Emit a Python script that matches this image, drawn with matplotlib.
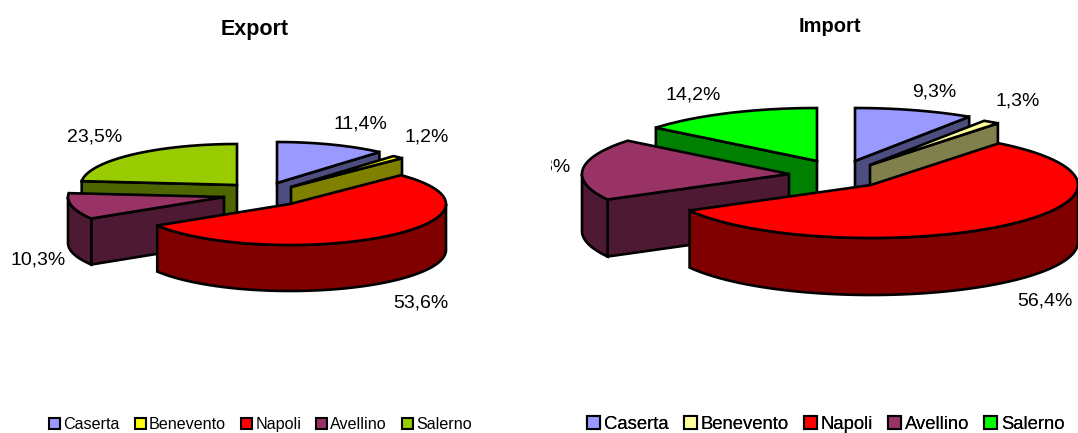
import numpy as np
import matplotlib
matplotlib.use("Agg")
import matplotlib.pyplot as plt
from matplotlib.patches import Patch, Polygon, Rectangle

plt.rcParams['font.family'] = ['Liberation Sans', 'DejaVu Sans']

provinces = ["Caserta", "Benevento", "Napoli", "Avellino", "Salerno"]
export_vals = [11.4, 1.2, 53.6, 10.3, 23.5]
import_vals = [9.3, 1.3, 56.4, 18.8, 14.2]

export_tops = ["#9999FF", "#FFFF00", "#FF0000", "#993366", "#99CC00"]
export_sides = ["#4D4D80", "#808000", "#800000", "#4D1933", "#4D6600"]
import_tops = ["#9999FF", "#FFFF99", "#FF0000", "#993366", "#00FF00"]
import_sides = ["#4D4D80", "#80804D", "#800000", "#4D1933", "#008000"]

# apex of every slice in pixels, slices are pulled apart by hand
export_apex = [(277, 183), (291, 187), (290, 204), (224, 197), (237, 185)]
import_apex = [(855, 161), (870, 165), (871, 185), (789, 174), (817, 161)]

# painter order, back slices first
order = [4, 0, 1, 3, 2]


def rim(apex, rx, ry, t):
    return np.column_stack([apex[0] + rx * np.sin(t), apex[1] - ry * np.cos(t)])


def draw_pie(ax, vals, tops, sides, apexes, rx, ry, h):
    edges = np.radians(np.concatenate([[0], np.cumsum(vals)]) * 3.6)
    for i in order:
        a0, a1 = edges[i], edges[i + 1]
        apex = apexes[i]
        style = dict(edgecolor="black", linewidth=1.9, joinstyle="miter")
        # cut faces turned to the viewer
        for a, visible in ((a0, np.sin(a0) < -1e-6), (a1, np.sin(a1) > 1e-6)):
            if visible:
                p = rim(apex, rx, ry, np.array([a]))[0]
                quad = [apex, p, (p[0], p[1] + h), (apex[0], apex[1] + h)]
                ax.add_patch(Polygon(quad, closed=True, facecolor=sides[i], **style))
        # outer wall, only the front half of the ellipse shows
        lo, hi = max(a0, np.pi / 2), min(a1, 3 * np.pi / 2)
        if lo < hi:
            arc = rim(apex, rx, ry, np.linspace(lo, hi, 80))
            wall = np.vstack([arc, (arc + [0, h])[::-1]])
            ax.add_patch(Polygon(wall, closed=True, facecolor=sides[i], **style))
        arc = rim(apex, rx, ry, np.linspace(a0, a1, 120))
        ax.add_patch(Polygon(np.vstack([[apex], arc]), closed=True, facecolor=tops[i], **style))


fig = plt.figure(figsize=(10.78, 4.33), dpi=100)
ax = fig.add_axes([0, 0, 1, 1])
ax.set_xlim(0, 1078)
ax.set_ylim(433, 0)
ax.axis("off")

draw_pie(ax, export_vals, export_tops, export_sides, export_apex, 156, 41, 46)
draw_pie(ax, import_vals, import_tops, import_sides, import_apex, 207, 53, 57)

ax.text(255, 29, "Export", fontsize=15.5, fontweight="bold", ha="center", va="center")
ax.text(830, 26, "Import", fontsize=14.5, fontweight="bold", ha="center", va="center")

export_pos = [(360, 124), (427, 137), (421, 303), (38, 260), (95, 137)]
import_pos = [(934, 92), (1018, 101), (1045, 301), (543, 167), (693, 95)]
for v, pos in zip(export_vals, export_pos):
    ax.text(pos[0], pos[1], f"{v:.1f}%".replace(".", ","), fontsize=14, ha="center", va="center")
clip = Rectangle((551, 0), 527, 433, transform=ax.transData)
for v, pos in zip(import_vals, import_pos):
    t = ax.text(pos[0], pos[1], f"{v:.1f}%".replace(".", ","), fontsize=14, ha="center", va="center")
    t.set_clip_path(clip)
    t.set_clip_on(True)


def add_legend(tops, x, y, size, spacing):
    handles = [Patch(facecolor=c, edgecolor="black", linewidth=1.5) for c in tops]
    leg = ax.legend(handles, provinces, ncol=5, frameon=False, fontsize=size,
                    loc="center left", bbox_to_anchor=(x, y), bbox_transform=ax.transData,
                    handlelength=0.7, handleheight=0.7, handletextpad=0.2,
                    columnspacing=spacing, borderpad=0, borderaxespad=0)
    ax.add_artist(leg)


add_legend(export_tops, 49, 424.5, 11.6, 0.91)
add_legend(import_tops, 587, 424.5, 13.3, 0.83)

fig.savefig("out.png", dpi=100)
